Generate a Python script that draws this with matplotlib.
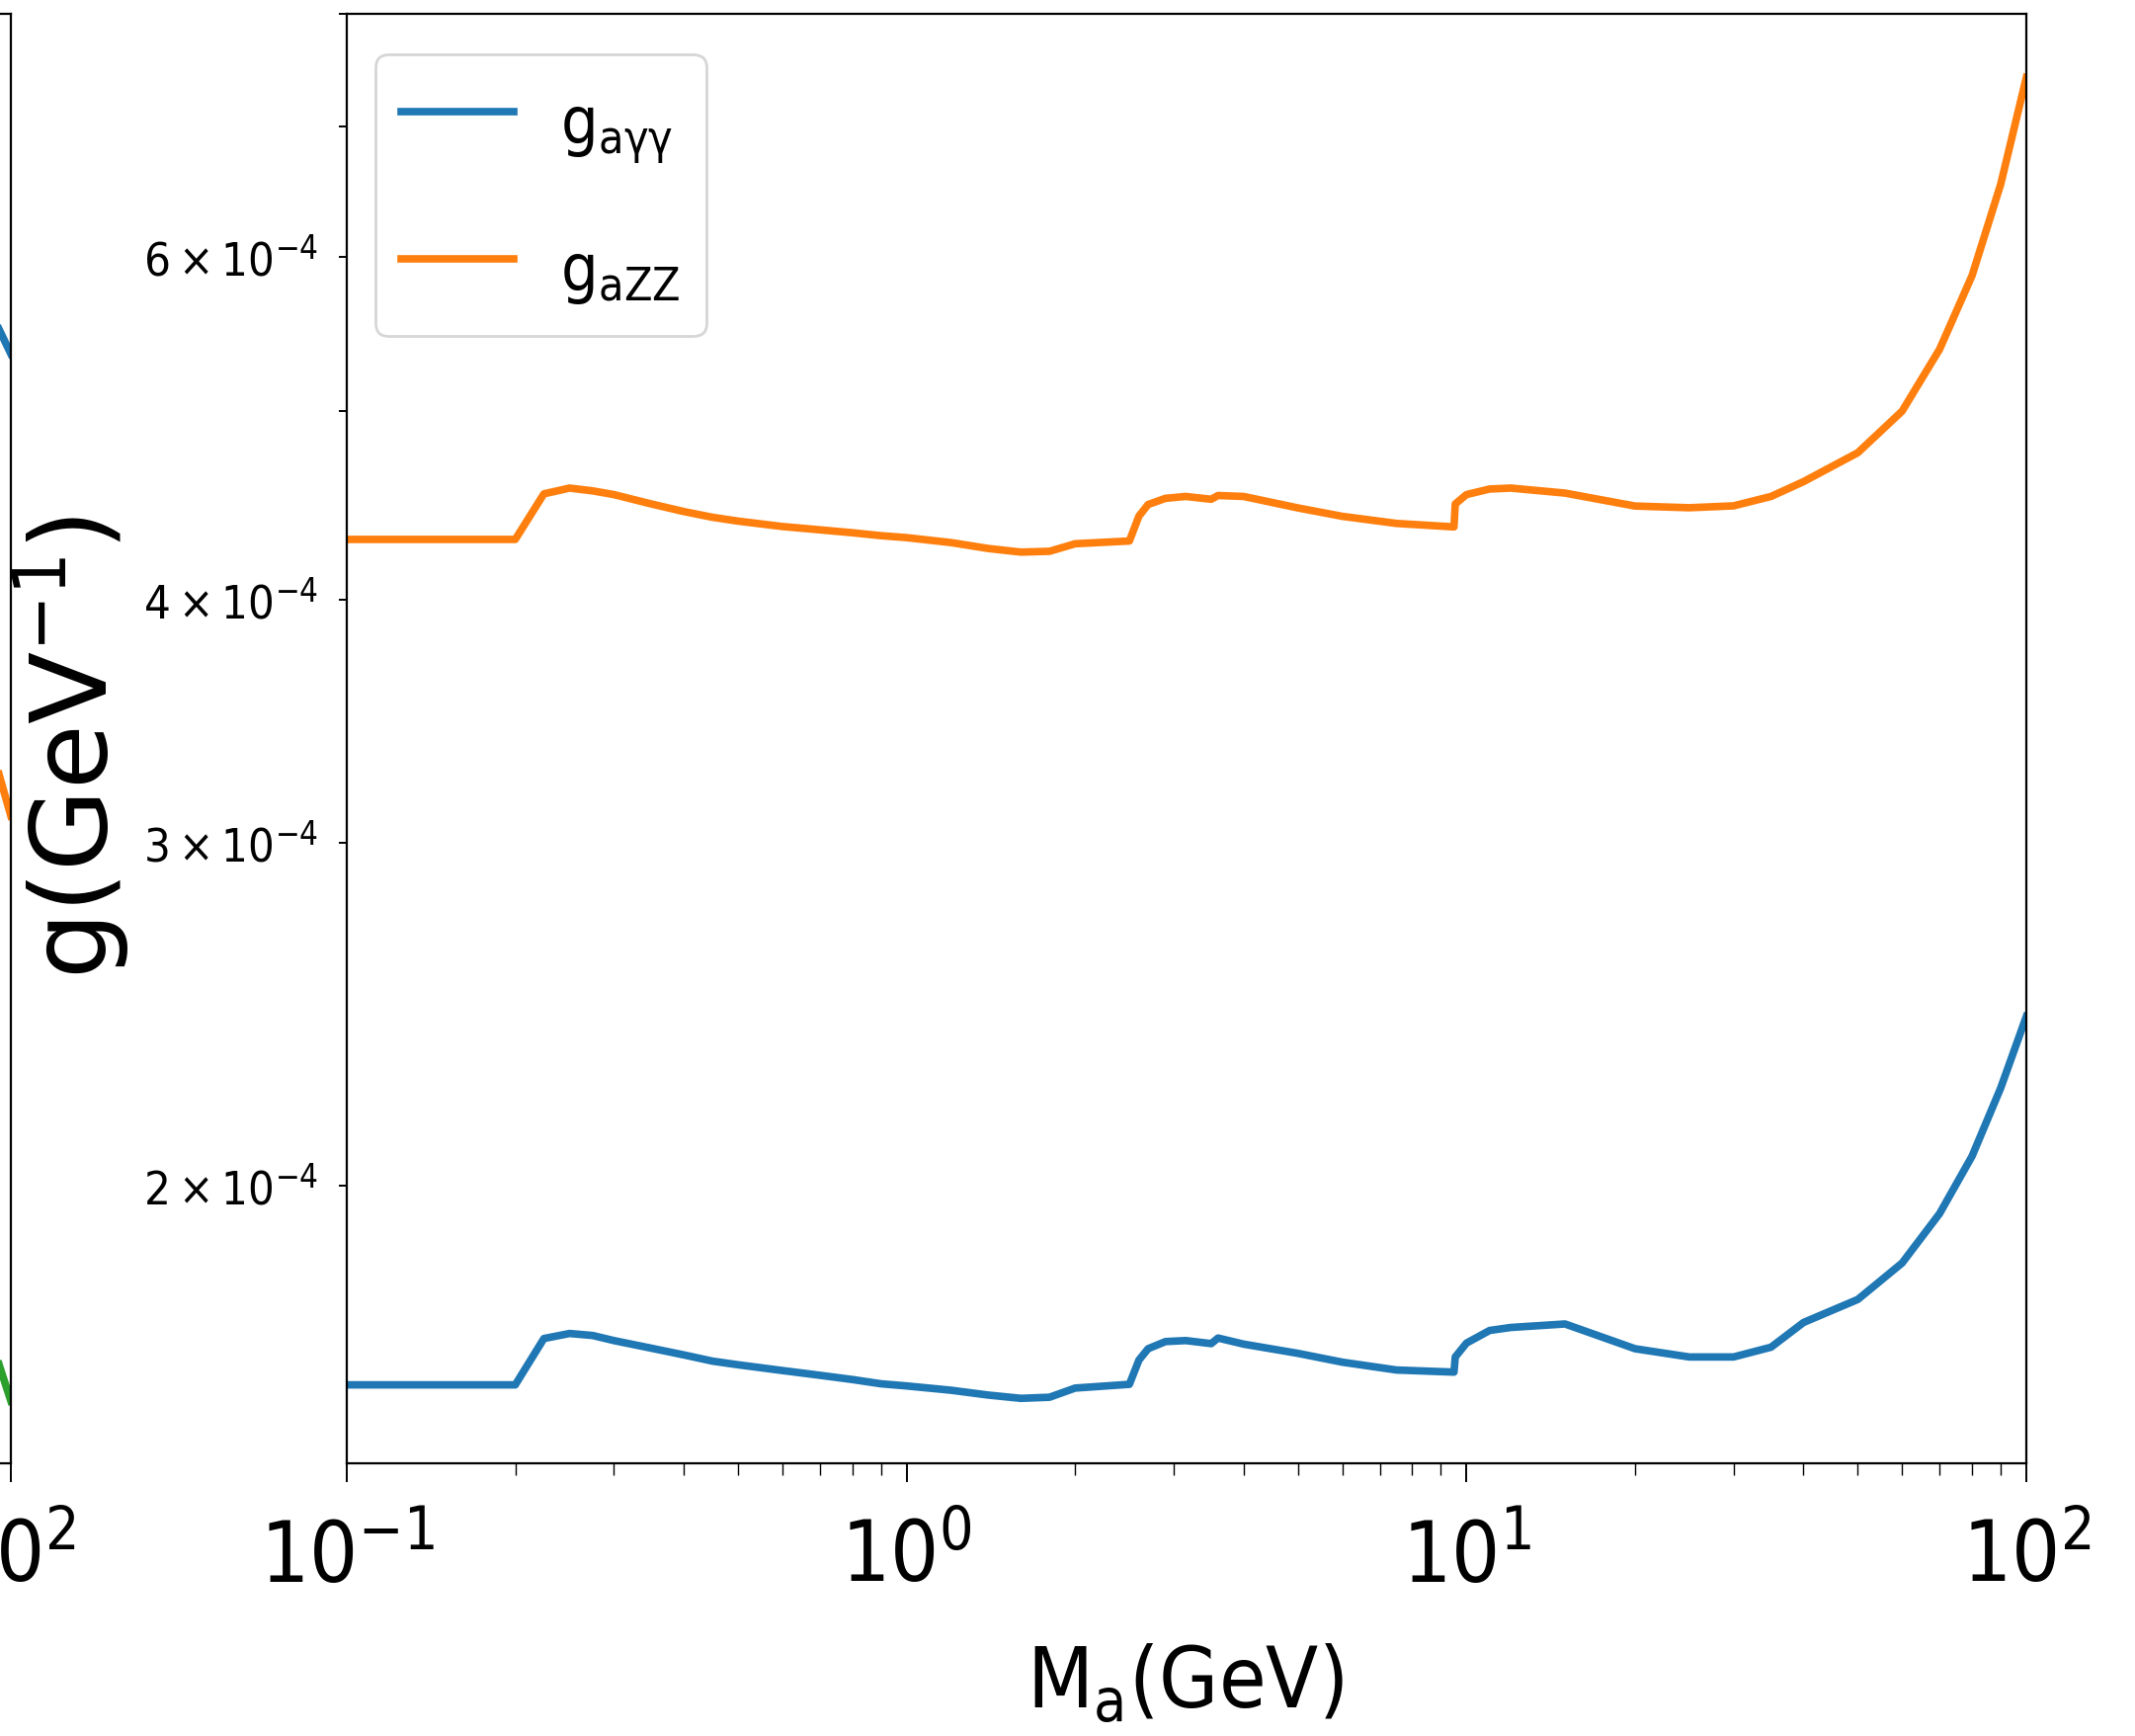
import matplotlib
matplotlib.use("Agg")
import matplotlib.pyplot as plt
from matplotlib import font_manager as fm
from matplotlib.textpath import TextPath

# 质量点 (GeV)
mass = [0.1, 0.2, 0.225, 0.25, 0.275, 0.3, 0.35, 0.4, 0.45, 0.5, 0.6, 0.7,
        0.8, 0.9, 1.0, 1.2, 1.4, 1.6, 1.8, 2.0, 2.5, 2.6, 2.7, 2.9, 3.15,
        3.5, 3.6, 4.0, 5.0, 6.0, 7.5, 9.5, 9.55, 10.0, 11.0, 12.0, 15.0,
        20.0, 25.0, 30.0, 35.0, 40.0, 50.0, 60.0, 70.0, 80.0, 90.0, 100.0]

# 耦合常数, 单位 1e-4 GeV^-1
g_agg = [1.580, 1.580, 1.669, 1.679, 1.675, 1.665, 1.650, 1.637, 1.625,
         1.618, 1.607, 1.598, 1.590, 1.582, 1.578, 1.570, 1.561, 1.555,
         1.557, 1.574, 1.581, 1.627, 1.649, 1.663, 1.665, 1.659, 1.670,
         1.658, 1.640, 1.623, 1.608, 1.604, 1.633, 1.660, 1.685, 1.691,
         1.698, 1.649, 1.633, 1.633, 1.652, 1.701, 1.748, 1.825, 1.935,
         2.071, 2.245, 2.443]
g_azz = [4.296, 4.296, 4.534, 4.565, 4.550, 4.530, 4.480, 4.440, 4.410,
         4.390, 4.362, 4.345, 4.330, 4.315, 4.305, 4.280, 4.250, 4.232,
         4.236, 4.274, 4.288, 4.416, 4.477, 4.510, 4.520, 4.505, 4.525,
         4.520, 4.459, 4.415, 4.378, 4.360, 4.480, 4.530, 4.560, 4.565,
         4.538, 4.469, 4.460, 4.470, 4.520, 4.600, 4.760, 5.000, 5.380,
         5.870, 6.540, 7.420]

# 左边被裁掉的子图, 只剩最右端一小段
left_mass = [90.0, 100.0]
left_blue = [5.70, 5.35]
left_orange = [3.445, 3.097]
left_green = [1.702, 1.550]

labels = ['g$_{\\mathregular{aγγ}}$', 'g$_{\\mathregular{aZZ}}$']
xlabel = 'M$_{\\mathregular{a}}$(GeV)'
ylabel = r'g(GeV$^{-1}$)'

DPI = 100


def find_narrow():
    # 找一个窄字体, 原图的字是瘦高的
    keys = ['Narrow', 'Condensed', 'Cond']
    found = []
    for f in fm.fontManager.ttflist:
        if f.style != 'normal' or f.weight not in (400, 'normal', 'regular'):
            continue
        text = f.name + ' ' + f.fname
        narrow = any(k in text for k in keys) or 'condensed' in str(f.stretch)
        if narrow and 'Mono' not in text and 'Serif' not in text:
            found.append(f)
    prefer = ['Liberation Sans Narrow', 'Arial Narrow', 'DejaVu',
              'Roboto', 'Noto Sans', 'Open Sans']
    for p in prefer:
        for f in found:
            if p in f.name:
                return f
    return found[0] if found else None


nf = find_narrow()
if nf is not None:
    plt.rcParams['font.family'] = [nf.name, 'DejaVu Sans']
    plt.rcParams['font.stretch'] = nf.stretch
    main_fp = fm.FontProperties(family=nf.name, stretch=nf.stretch)
else:
    plt.rcParams['font.family'] = ['DejaVu Sans']
    main_fp = fm.FontProperties(family='DejaVu Sans')
plt.rcParams['axes.linewidth'] = 1.6


def fit_size(s, width_px, fp):
    # 按参考图里的文字宽度换算字号
    w = TextPath((0, 0), s, size=100, prop=fp).get_extents().width
    return 100 * width_px * 72.0 / DPI / w


xtick_size = fit_size(r'$\mathdefault{10^{0}}$', 122, main_fp)
ytick_size = fit_size(r'$\mathdefault{6\times10^{-4}}$', 172, main_fp)
xlabel_size = fit_size(xlabel, 311, main_fp)
legend_size = fit_size(labels[0], 109, main_fp)
legend_em = legend_size * DPI / 72.0


def style_axes(ax):
    ax.set_xscale('log')
    ax.set_yscale('log')
    ax.set_xlim(0.1, 100)
    ax.set_ylim(1.44e-4, 8.0e-4)
    ax.tick_params(axis='x', which='major', length=14, width=1.4,
                   labelsize=xtick_size, pad=26)
    ax.tick_params(axis='x', which='minor', length=8.5, width=1.0)
    ax.tick_params(axis='y', which='both', length=5.8, width=1.4,
                   labelsize=ytick_size, pad=15)


fig = plt.figure(figsize=(21.61, 17.57), dpi=DPI)

ax0 = fig.add_axes([-0.7816, 0.1571, 0.7867, 0.8349])
s = 1e-4
ax0.plot(left_mass, [v * s for v in left_blue], color='C0', lw=5.5)
ax0.plot(left_mass, [v * s for v in left_orange], color='C1', lw=5.5)
ax0.plot(left_mass, [v * s for v in left_green], color='C2', lw=5.5)
style_axes(ax0)

ax = fig.add_axes([0.1624, 0.1571, 0.7867, 0.8349])
ax.plot(mass, [v * s for v in g_agg], color='C0', lw=5.5, label=labels[0])
ax.plot(mass, [v * s for v in g_azz], color='C1', lw=5.5, label=labels[1])
style_axes(ax)

ax.set_xlabel(xlabel, fontsize=xlabel_size)
ax.xaxis.set_label_coords(0.499, -0.124)
ax.set_ylabel(ylabel, fontsize=77, family='DejaVu Sans', stretch='normal')
ax.yaxis.set_label_coords(-0.128, 0.494)

leg = ax.legend(loc='upper left', bbox_to_anchor=(0.017, 0.972),
                borderaxespad=0, fontsize=legend_size,
                handlelength=114 / legend_em, handleheight=1.55,
                handletextpad=0.7, borderpad=0.4, labelspacing=0.95)
leg.get_frame().set_linewidth(2)

fig.savefig('out.png', dpi=DPI)
